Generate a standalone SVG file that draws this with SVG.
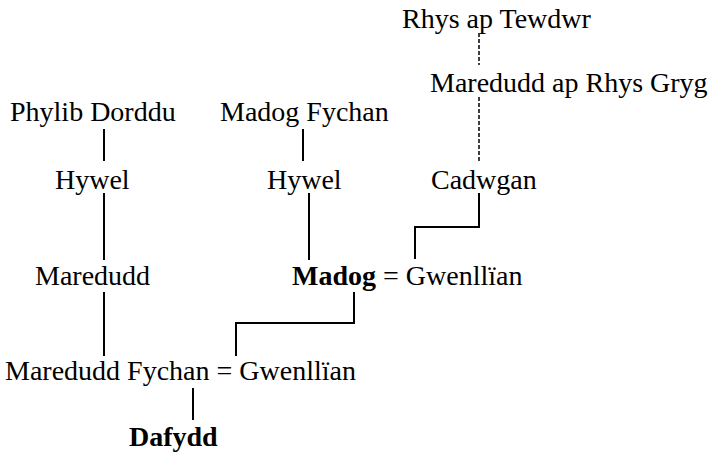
<svg xmlns="http://www.w3.org/2000/svg" width="711" height="452" viewBox="0 0 711 452">
<style>
text{font-family:"Liberation Serif","Times New Roman",serif;font-size:28px;fill:#000}
.b{font-weight:bold}
.l{stroke:#000;stroke-width:2;fill:none}
.d{stroke:#000;stroke-width:1.5;fill:none;stroke-dasharray:4 2}
</style>
<rect width="711" height="452" fill="#fff"/>
<g id="connectors">
<path class="d" d="M479 33V65"/>
<path class="d" d="M479 97V162"/>
<path class="l" d="M479 193V227H415V259"/>
<path class="l" d="M104 129V161"/>
<path class="l" d="M104 193V260"/>
<path class="l" d="M303 129V161"/>
<path class="l" d="M309 193V260"/>
<path class="l" d="M104 292V356"/>
<path class="l" d="M354 292V323H236V356"/>
<path class="l" d="M193 388V420"/>
</g>
<g id="rhys"><text x="402" y="28">Rhys ap Tewdwr</text></g>
<g id="maredudd-ap-rhys"><text x="430" y="92">Maredudd ap Rhys Gryg</text></g>
<g id="cadwgan"><text x="431" y="189">Cadwgan</text></g>
<g id="phylib"><text x="10" y="121">Phylib Dorddu</text></g>
<g id="madog-fychan"><text x="220" y="121">Madog Fychan</text></g>
<g id="hywel1"><text x="55" y="189">Hywel</text></g>
<g id="hywel2"><text x="267" y="189">Hywel</text></g>
<g id="maredudd"><text x="35" y="285">Maredudd</text></g>
<g id="madog"><text x="292" y="285"><tspan class="b">Madog</tspan> = Gwenllïan</text></g>
<g id="maredudd-fychan"><text x="5" y="380">Maredudd Fychan = Gwenllïan</text></g>
<g id="dafydd"><text class="b" x="129" y="446">Dafydd</text></g>
</svg>
